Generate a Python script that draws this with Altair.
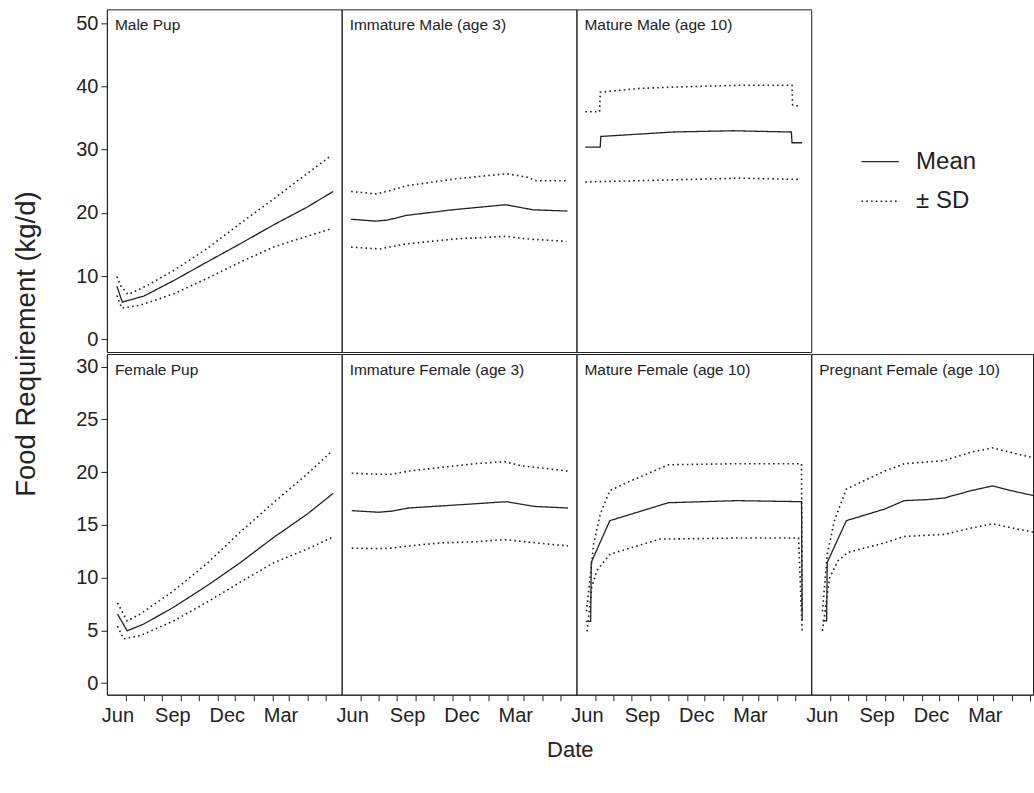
import altair as alt
import pandas as pd

FONT = "Liberation Sans"
INK = "#222222"

# ---- axis ticks (days after 1 June) ----
month_ticks = [0, 30, 61, 92, 122, 153, 183, 214, 245, 273, 304, 334]
month_labels = {0: "Jun", 92: "Sep", 183: "Dec", 273: "Mar"}
y_ticks_top = [0, 10, 20, 30, 40, 50]
y_ticks_bottom = [0, 5, 10, 15, 20, 25, 30]

panels_top = ["Male Pup", "Immature Male (age 3)", "Mature Male (age 10)"]
panels_bottom = ["Female Pup", "Immature Female (age 3)",
                 "Mature Female (age 10)", "Pregnant Female (age 10)"]

# ---- Male Pup ----
mp_mean_day = [-15, -6, 30, 80, 135, 191, 247, 303, 347]
mp_mean = [8.4, 5.9, 6.85, 9.3, 12.2, 15.1, 18.1, 20.9, 23.4]
mp_up_day = [-15, -9, 4, 35, 80, 135, 191, 247, 303, 344]
mp_up = [9.95, 8.5, 7.1, 8.5, 10.9, 14.3, 18.3, 22.2, 26.2, 29.1]
mp_lo_day = [-15, -7, 24, 80, 135, 191, 247, 303, 344]
mp_lo = [6.95, 4.95, 5.4, 7.2, 9.6, 12.2, 14.6, 16.3, 17.5]

# ---- Immature Male ----
im_mean_day = [-16, 26, 46, 76, 154, 243, 288, 346]
im_mean = [19.0, 18.7, 18.9, 19.6, 20.5, 21.3, 20.5, 20.3]
im_up_day = [-16, 26, 48, 76, 160, 244, 277, 294, 344]
im_up = [23.4, 23.0, 23.5, 24.3, 25.4, 26.2, 25.7, 25.1, 25.1]
im_lo_day = [-16, 32, 48, 76, 160, 244, 277, 344]
im_lo = [14.6, 14.3, 14.6, 15.1, 15.9, 16.3, 15.9, 15.5]

# ---- Mature Male ----
mm_mean_day = [-17, 8, 9, 130, 230, 328, 329, 346]
mm_mean = [30.4, 30.4, 32.1, 32.8, 33.0, 32.8, 31.1, 31.1]
mm_up_day = [-17, 7, 8, 74, 130, 241, 329, 330, 339]
mm_up = [36.0, 36.0, 39.1, 39.7, 39.9, 40.2, 40.2, 37.1, 36.9]
mm_lo_day = [-17, 74, 241, 343]
mm_lo = [24.9, 25.1, 25.5, 25.3]

# ---- Female Pup ----
fp_mean_day = [-14, 2, 30, 80, 135, 191, 247, 303, 347]
fp_mean = [6.55, 4.96, 5.6, 7.2, 9.2, 11.4, 13.8, 16.0, 18.0]
fp_up_day = [-14, 2, 24, 80, 135, 191, 247, 303, 345]
fp_up = [7.6, 5.9, 6.55, 8.76, 11.3, 14.3, 17.1, 19.8, 22.0]
fp_lo_day = [-14, -4, 24, 80, 135, 191, 247, 303, 345]
fp_lo = [5.4, 4.2, 4.5, 5.9, 7.65, 9.55, 11.4, 12.7, 13.8]

# ---- Immature Female ----
if_mean_day = [-15, 30, 52, 80, 135, 191, 244, 291, 347]
if_mean = [16.35, 16.2, 16.3, 16.6, 16.8, 17.0, 17.2, 16.75, 16.6]
if_up_day = [-15, 30, 52, 80, 135, 191, 241, 269, 302, 347]
if_up = [19.9, 19.8, 19.8, 20.1, 20.45, 20.8, 21.0, 20.6, 20.4, 20.1]
if_lo_day = [-15, 30, 52, 80, 135, 191, 241, 302, 347]
if_lo = [12.8, 12.75, 12.8, 13.0, 13.3, 13.4, 13.6, 13.25, 13.0]

# ---- Mature Female ----
mf_mean_day = [-16, -8, -7, 24, 122, 236, 345, 346]
mf_mean = [5.85, 5.85, 11.45, 15.4, 17.1, 17.3, 17.2, 5.9]
mf_up_day = [-15, -7, -3, 8, 24, 52, 122, 236, 345, 346]
mf_up = [6.8, 11.0, 13.2, 16.0, 18.25, 19.0, 20.7, 20.8, 20.8, 6.8]
mf_lo_day = [-14, -6, 2, 24, 52, 108, 236, 340, 346]
mf_lo = [4.9, 9.1, 10.65, 12.2, 12.7, 13.65, 13.75, 13.75, 4.96]

# ---- Pregnant Female ----
pf_mean_day = [-13, -6, -5, 27, 91, 124, 163, 191, 236, 272, 303, 346]
pf_mean = [5.9, 5.9, 11.45, 15.4, 16.5, 17.3, 17.4, 17.55, 18.25, 18.7, 18.25, 17.7]
pf_up_day = [-13, -5, 7, 27, 91, 124, 191, 236, 272, 314, 346]
pf_up = [6.8, 12.2, 15.4, 18.4, 20.1, 20.8, 21.1, 21.9, 22.3, 21.7, 21.3]
pf_lo_day = [-13, -1, 13, 30, 91, 124, 191, 236, 272, 314, 346]
pf_lo = [4.96, 10.0, 11.6, 12.4, 13.3, 13.9, 14.1, 14.7, 15.1, 14.6, 14.25]

series = {
    "Male Pup": (mp_mean_day, mp_mean, mp_up_day, mp_up, mp_lo_day, mp_lo),
    "Immature Male (age 3)": (im_mean_day, im_mean, im_up_day, im_up, im_lo_day, im_lo),
    "Mature Male (age 10)": (mm_mean_day, mm_mean, mm_up_day, mm_up, mm_lo_day, mm_lo),
    "Female Pup": (fp_mean_day, fp_mean, fp_up_day, fp_up, fp_lo_day, fp_lo),
    "Immature Female (age 3)": (if_mean_day, if_mean, if_up_day, if_up, if_lo_day, if_lo),
    "Mature Female (age 10)": (mf_mean_day, mf_mean, mf_up_day, mf_up, mf_lo_day, mf_lo),
    "Pregnant Female (age 10)": (pf_mean_day, pf_mean, pf_up_day, pf_up, pf_lo_day, pf_lo),
}

rows = []
for panel, (md, mv, ud, uv, ld, lv) in series.items():
    for name, stat, dd, vv in (("mean", "Mean", md, mv),
                               ("upper", "\u00b1 SD", ud, uv),
                               ("lower", "\u00b1 SD", ld, lv)):
        for i, (d, v) in enumerate(zip(dd, vv)):
            rows.append({"panel": panel, "line": name, "stat": stat,
                         "day": d, "value": v, "i": i})
df = pd.DataFrame(rows)

label_expr = "".join(
    f"datum.value == {k} ? '{v}' : " for k, v in month_labels.items()) + "''"

X_LEFT = -31.8
PX_PER_DAY = 0.598


def panel(name, width, height, ydom, yticks, show_y, show_x, show_legend):
    x_axis = alt.Axis(values=month_ticks, labelExpr=label_expr, title=None,
                      grid=False, tickSize=6, labelFontSize=20, labelFont=FONT,
                      labelOffset=-8.5, labelPadding=5, domainColor=INK,
                      tickColor=INK, labelColor=INK, labelFlush=False,
                      labelOverlap=False) if show_x else None
    y_axis = alt.Axis(values=yticks, title=None, grid=False, tickSize=6,
                      labelFontSize=20, labelFont=FONT, labelPadding=3,
                      domainColor=INK, tickColor=INK, labelColor=INK,
                      labelFlush=False, labelOverlap=False) if show_y else None
    legend = alt.Legend(title=None, orient="none", legendX=754, legendY=133,
                        symbolType="stroke", symbolSize=1400,
                        symbolStrokeWidth=1.6, symbolStrokeColor=INK,
                        labelFont=FONT, labelFontSize=24, labelColor=INK,
                        labelOffset=16, rowPadding=7) if show_legend else None
    xdom = [X_LEFT, X_LEFT + width / PX_PER_DAY]
    lines = alt.Chart(df).transform_filter(
        alt.datum.panel == name
    ).mark_line(color=INK, clip=True, strokeCap="butt").encode(
        x=alt.X("day:Q", scale=alt.Scale(domain=xdom, nice=False, zero=False),
                axis=x_axis),
        y=alt.Y("value:Q", scale=alt.Scale(domain=ydom, nice=False, zero=False),
                axis=y_axis),
        detail="line:N",
        order="i:Q",
        strokeDash=alt.StrokeDash(
            "stat:N",
            scale=alt.Scale(domain=["Mean", "\u00b1 SD"],
                            range=[[1, 0], [1.6, 3.2]]),
            legend=legend),
        strokeWidth=alt.StrokeWidth(
            "stat:N",
            scale=alt.Scale(domain=["Mean", "\u00b1 SD"], range=[1.3, 1.6]),
            legend=None),
    )
    label = alt.Chart(pd.DataFrame({"panel": [name]})).mark_text(
        align="left", baseline="middle", font=FONT, fontSize=15.5, color=INK
    ).encode(text="panel:N", x=alt.value(8), y=alt.value(16))
    return alt.layer(lines, label).properties(width=width, height=height)


top_dom = [-2.0, 52.2]
bot_dom = [-1.1, 31.2]

row1 = alt.hconcat(
    panel(panels_top[0], 235, 343, top_dom, y_ticks_top, True, False, True),
    panel(panels_top[1], 235, 343, top_dom, y_ticks_top, False, False, False),
    panel(panels_top[2], 235, 343, top_dom, y_ticks_top, False, False, False),
    spacing=0, bounds="flush",
)
row2 = alt.hconcat(
    panel(panels_bottom[0], 235, 341, bot_dom, y_ticks_bottom, True, True, False),
    panel(panels_bottom[1], 235, 341, bot_dom, y_ticks_bottom, False, True, False),
    panel(panels_bottom[2], 235, 341, bot_dom, y_ticks_bottom, False, True, False),
    panel(panels_bottom[3], 222, 341, bot_dom, y_ticks_bottom, False, True, False),
    spacing=0, bounds="flush",
).properties(title=alt.TitleParams("Date", orient="bottom", anchor="middle",
                                   font=FONT, fontSize=22, dx=16,
                                   fontWeight="normal", color=INK, offset=14))

chart = alt.vconcat(row1, row2, spacing=0).properties(
    title=alt.TitleParams("Food Requirement (kg/d)", orient="left",
                          anchor="middle", font=FONT, dx=41,
                          fontSize=27.5, fontWeight="normal", color=INK,
                          offset=35),
    padding={"left": 12, "top": 8, "right": 0, "bottom": 5},
).configure(background="white").configure_view(
    stroke=INK, strokeWidth=1).resolve_scale(strokeDash="shared")

chart.save("out.html", embed_options={"renderer": "svg", "actions": False})
